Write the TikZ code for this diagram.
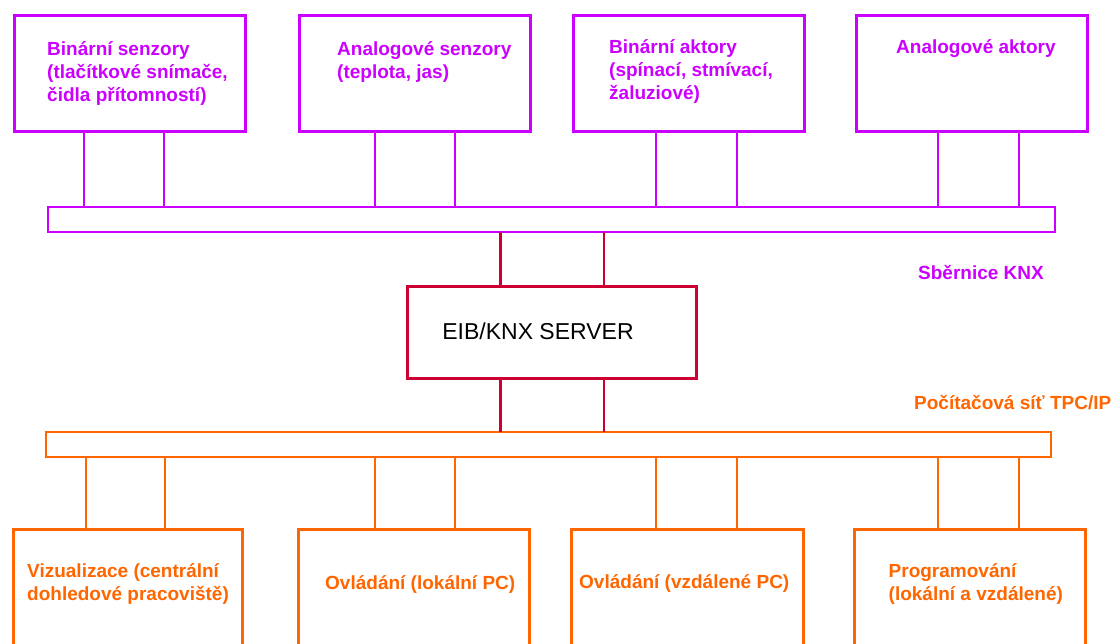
\documentclass[tikz,border=0pt]{standalone}
\usepackage{fontspec}
\setmainfont{Liberation Sans}
\definecolor{knxmag}{HTML}{CC00FF}
\definecolor{lanorange}{HTML}{FF6600}
\definecolor{srvred}{HTML}{CC0033}
\tikzset{
  device/.style={draw, line width=3pt, minimum width=231pt, inner sep=0pt, outer sep=0pt},
  topdev/.style={device, knxmag, minimum height=116pt},
  botdev/.style={device, lanorange, minimum height=190pt},
  busbar/.style={draw, line width=2pt, inner sep=0pt, outer sep=0pt, minimum height=25pt},
  link/.style={line width=2pt},
  % labels are placed by the baseline of their last line
  lbl/.style={anchor=base west, align=left, inner sep=0pt,
    font=\fontsize{19}{23}\selectfont\bfseries},
}
\begin{document}
\begin{tikzpicture}[x=1pt,y=-1pt]
\useasboundingbox[fill=white] (0,0) rectangle (1111,644);
\clip (0,0) rectangle (1111,644);

% sensors and actuators on the KNX bus
\node[topdev] (s1) at (129.5,73.5) {};
\node[topdev] (s2) at (414.5,73.5) {};
\node[topdev] (s3) at (689,73.5) {};
\node[topdev] (s4) at (972,73.5) {};

\node[lbl, knxmag] at (47,102) {Binární senzory\\(tlačítkové snímače,\\čidla přítomností)};
\node[lbl, knxmag] at (337,79) {Analogové senzory\\(teplota, jas)};
\node[lbl, knxmag] at (609,100) {Binární aktory\\(spínací, stmívací,\\žaluziové)};
\node[lbl, knxmag] at (896,53.5) {Analogové aktory};

% KNX bus
\node[busbar, knxmag, minimum width=1007pt] (knx) at (551,220) {};
\node[lbl, knxmag] at (918,280) {Sběrnice KNX};

\foreach \d/\xa/\xb in {s1/84/164, s2/375/455, s3/656/737, s4/938/1019}{
  \draw[link, knxmag] (\d.south -| \xa,0) -- (knx.north -| \xa,0);
  \draw[link, knxmag] (\d.south -| \xb,0) -- (knx.north -| \xb,0);
}

% gateway server
\node[draw, srvred, line width=3pt, minimum width=289pt, minimum height=92pt,
      inner sep=0pt, outer sep=0pt] (srv) at (552,332.5) {};
\node[anchor=base, inner sep=0pt, font=\fontsize{23}{27}\selectfont] at (538,339) {EIB/KNX SERVER};

% computer network
\node[busbar, lanorange, minimum width=1005pt] (lan) at (548.5,444.5) {};
\node[lbl, lanorange] at (914,409) {Počítačová síť TPC/IP};

\draw[srvred, line width=3pt] (knx.south -| 500,0) -- (srv.north -| 500,0);
\draw[srvred, line width=1.2pt] (knx.south -| 604,0) -- (srv.north -| 604,0);
\draw[srvred, line width=3pt] (srv.south -| 500,0) -- (lan.north -| 500,0);
\draw[srvred, line width=1.2pt] (srv.south -| 604,0) -- (lan.north -| 604,0);

% workstations on the network
\node[botdev, minimum width=229pt] (p1) at (128,624.5) {};
\node[botdev] (p2) at (414,624.5) {};
\node[botdev, minimum width=232pt] (p3) at (687.5,624.5) {};
\node[botdev] (p4) at (970,624.5) {};

\foreach \d/\xa/\xb in {p1/86/165, p2/375/455, p3/656/737, p4/938/1019}{
  \draw[link, lanorange] (lan.south -| \xa,0) -- (\d.north -| \xa,0);
  \draw[link, lanorange] (lan.south -| \xb,0) -- (\d.north -| \xb,0);
}

\node[lbl, lanorange] at (27,600) {Vizualizace (centrální\\dohledové pracoviště)};
\node[lbl, lanorange] at (325,589) {Ovládání (lokální PC)};
\node[lbl, lanorange] at (579,588) {Ovládání (vzdálené PC)};
\node[lbl, lanorange] at (888.5,600) {Programování\\(lokální a vzdálené)};
\end{tikzpicture}
\end{document}
